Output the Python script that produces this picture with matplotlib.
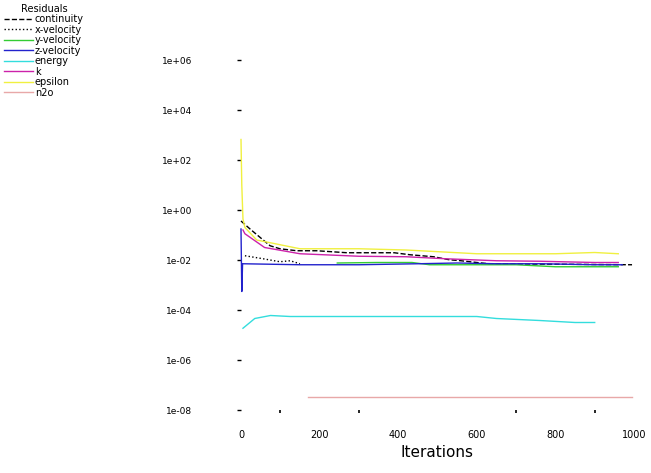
import numpy as np
import matplotlib
matplotlib.use('Agg')
import matplotlib.pyplot as plt

# residual histories, log10 of residual vs iteration
cont_it = [0, 23, 74, 99, 142, 193, 270, 390, 430, 490, 530, 560, 600, 630, 995]
cont_lg = [-0.44, -0.76, -1.43, -1.55, -1.63, -1.63, -1.71, -1.71, -1.79, -1.87, -1.99, -2.03, -2.1, -2.15, -2.19]

xvel_it = [10, 56, 99, 125, 150]
xvel_lg = [-1.83, -1.95, -2.07, -2.03, -2.15]

yvel_it = [245, 345, 435, 480, 525, 600, 700, 800, 900, 960]
yvel_lg = [-2.12, -2.1, -2.1, -2.19, -2.19, -2.19, -2.19, -2.27, -2.27, -2.27]

zvel_it = [0, 1, 2, 4, 150, 300, 450, 550, 650, 760, 900, 970]
zvel_lg = [-0.76, -2.0, -3.26, -2.15, -2.19, -2.19, -2.15, -2.12, -2.15, -2.15, -2.19, -2.19]

energy_it = [5, 35, 75, 125, 250, 400, 550, 600, 650, 760, 850, 900]
energy_lg = [-4.73, -4.34, -4.22, -4.26, -4.26, -4.26, -4.26, -4.26, -4.34, -4.42, -4.5, -4.5]

k_it = [5, 10, 60, 150, 300, 420, 520, 650, 760, 900, 960]
k_lg = [-0.8, -0.95, -1.5, -1.75, -1.85, -1.87, -1.95, -2.03, -2.05, -2.1, -2.1]

eps_it = [0, 2, 5, 10, 40, 150, 300, 420, 600, 800, 900, 960]
eps_lg = [2.82, 1.0, -0.36, -0.7, -1.2, -1.55, -1.55, -1.6, -1.75, -1.75, -1.7, -1.75]

n2o_it = [170, 400, 600, 800, 995]
n2o_lg = [-7.48, -7.48, -7.48, -7.48, -7.48]

series = [
    ('continuity', cont_it, cont_lg, 'black', '--'),
    ('x-velocity', xvel_it, xvel_lg, 'black', ':'),
    ('y-velocity', yvel_it, yvel_lg, '#33cc33', '-'),
    ('z-velocity', zvel_it, zvel_lg, '#2222cc', '-'),
    ('energy', energy_it, energy_lg, '#33dddd', '-'),
    ('k', k_it, k_lg, '#cc22aa', '-'),
    ('epsilon', eps_it, eps_lg, '#f0f040', '-'),
    ('n2o', n2o_it, n2o_lg, '#e8a8a8', '-'),
]

ytick_exp = [6, 4, 2, 0, -2, -4, -6, -8]
ytick_labels = ['1e+06', '1e+04', '1e+02', '1e+00', '1e-02', '1e-04', '1e-06', '1e-08']
xticks = [0, 200, 400, 600, 800, 1000]

fig = plt.figure(figsize=(6.51, 4.73), dpi=100)
ax = fig.add_axes([241 / 651, 1 - 413 / 473, 393 / 651, 373 / 473])

for name, it, lg, col, ls in series:
    ax.plot(it, 10.0 ** np.array(lg), color=col, ls=ls, lw=1.0, label=name, clip_on=False)

ax.set_yscale('log')
ax.set_xlim(0, 1000)
ax.set_ylim(10 ** -8.12, 10 ** 6.8)
for s in ax.spines.values():
    s.set_visible(False)

ax.set_yticks([10.0 ** e for e in ytick_exp])
ax.set_yticklabels(ytick_labels, fontsize=6.5)
ax.yaxis.set_minor_locator(matplotlib.ticker.NullLocator())
ax.tick_params(axis='y', length=3, width=1, pad=32, direction='out')

ax.set_xticks(xticks)
ax.set_xticklabels([str(t) for t in xticks], fontsize=7)
ax.set_xticks([100, 300, 700, 900], minor=True)
ax.tick_params(axis='x', which='major', length=0, pad=12)
ax.tick_params(axis='x', which='minor', length=2, width=1.2, direction='in')
ax.set_xlabel('Iterations', fontsize=11, labelpad=4)

leg = fig.legend(loc='upper left', bbox_to_anchor=(0.0, 1.0), frameon=False,
                 title='Residuals', fontsize=7, title_fontsize=7,
                 handlelength=3.0, handletextpad=0.2, labelspacing=0.05,
                 borderpad=0.1, borderaxespad=0.3)

fig.savefig('out.png', dpi=100)
